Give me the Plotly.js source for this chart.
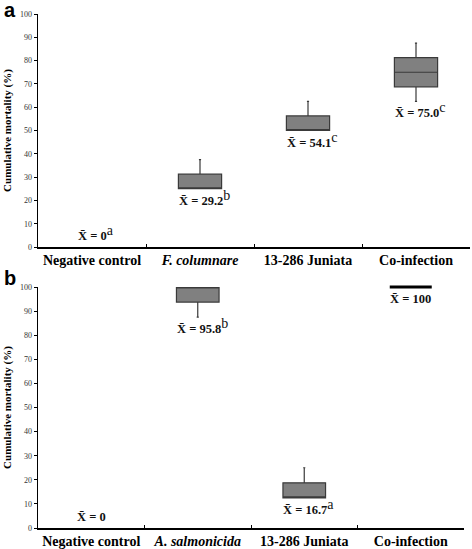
<!DOCTYPE html>
<html>
<head>
<meta charset="utf-8">
<script src="https://cdn.plot.ly/plotly-3.0.1.min.js"></script>
<style>html,body{margin:0;padding:0;background:#fff;}#chart{width:472px;height:549px;}</style>
</head>
<body>
<div id="chart"></div>
<script>
// ---- Data ----
const categoriesA = ['Negative control', '<i>F. columnare</i>', '13-286 Juniata', 'Co-infection'];
const categoriesB = ['Negative control', '<i>A. salmonicida</i>', '13-286 Juniata', 'Co-infection'];

// panel a box statistics (Negative control has no spread: all 0)
const boxCatsA = ['<i>F. columnare</i>', '13-286 Juniata', 'Co-infection'];
const lowerA = [25, 50, 62.5];
const q1A = [25, 50, 68.75];
const medianA = [25, 50, 75];
const q3A = [31.25, 56.25, 81.25];
const upperA = [37.5, 62.5, 87.5];

// panel b box statistics
const boxCatsB = ['<i>A. salmonicida</i>', '13-286 Juniata'];
const lowerB = [87.5, 12.5];
const q1B = [93.75, 12.5];
const medianB = [100, 12.5];
const q3B = [100, 18.75];
const upperB = [100, 25];
// Co-infection in panel b: all fish died (100)
const flatCatsB = ['Co-infection'];
const flatValB = [100];

const meanLabelsA = ['0', '29.2', '54.1', '75.0'];
const lettersA = ['a', 'b', 'c', 'c'];
const meanLabelsB = ['0', '95.8', '16.7', '100'];
const lettersB = ['', 'b', 'a', ''];

// ---- Styles ----
const serif = 'Liberation Serif, Times New Roman, serif';
const boxFill = '#808080';
const boxLine = '#3a3a3a';

const traces = [
  {type: 'box', x: boxCatsA, q1: q1A, median: medianA, q3: q3A, lowerfence: lowerA, upperfence: upperA,
   xaxis: 'x', yaxis: 'y', width: 0.4, whiskerwidth: 0.05, fillcolor: boxFill,
   line: {color: boxLine, width: 1.2}, boxpoints: false, hoverinfo: 'skip', showlegend: false},
  {type: 'box', x: boxCatsB, q1: q1B, median: medianB, q3: q3B, lowerfence: lowerB, upperfence: upperB,
   xaxis: 'x2', yaxis: 'y2', width: 0.4, whiskerwidth: 0.05, fillcolor: boxFill,
   line: {color: boxLine, width: 1.2}, boxpoints: false, hoverinfo: 'skip', showlegend: false},
  {type: 'scatter', mode: 'markers', x: flatCatsB, y: flatValB, xaxis: 'x2', yaxis: 'y2', cliponaxis: false,
   marker: {symbol: 'line-ew', size: 30, color: '#000', line: {color: '#000', width: 3}},
   hoverinfo: 'skip', showlegend: false}
];

function lowest(cats, boxCats, lower, flatCats, flatVals) {
  return cats.map(c => {
    const i = boxCats.indexOf(c);
    if (i >= 0) return lower[i];
    const j = flatCats.indexOf(c);
    return j >= 0 ? flatVals[j] : null;
  });
}
const lowA = lowest(categoriesA, boxCatsA, lowerA, [], []);
const lowB = lowest(categoriesB, boxCatsB, lowerB, flatCatsB, flatValB);

function meanAnnots(labels, letters, lows, xref, yref) {
  return labels.map((m, i) => {
    const txt = 'X\u0304 = ' + m +
      (letters[i] ? '<sup><span style="font-size:14px;font-weight:normal;fill:#111;color:#111">' + letters[i] + '</span></sup>' : '');
    const hasBox = lows[i] !== null;
    return {
      xref: xref, yref: yref, x: i + (letters[i] ? 0.04 : 0), y: hasBox ? lows[i] : 0,
      yanchor: hasBox ? 'top' : 'bottom', yshift: hasBox ? (letters[i] ? 3 : -3) : 2,
      text: txt, showarrow: false,
      font: {family: serif, size: 12.5, color: '#111', weight: 'bold'}
    };
  });
}

const yaxisCommon = {
  range: [0, 100], dtick: 10, tick0: 0, ticks: 'outside', ticklen: 3, tickwidth: 1, tickcolor: '#000',
  showline: true, linecolor: '#000', linewidth: 1.5, showgrid: false, zeroline: false,
  tickfont: {family: serif, size: 8, color: '#333333'}, automargin: false,
  title: {text: 'Cumulative mortality (%)', font: {family: serif, size: 11, color: '#000', weight: 'bold'}, standoff: 6}
};
const xaxisCommon = {
  type: 'category', range: [-0.5, 3.5], tickson: 'boundaries', ticks: 'inside', ticklen: 3, tickwidth: 1,
  tickangle: 0, tickcolor: '#000', showline: true, linecolor: '#000', linewidth: 1.5, showgrid: false, zeroline: false,
  tickfont: {family: serif, size: 14, color: '#000', weight: 'bold'}, automargin: false
};

const layout = {
  width: 472, height: 549,
  margin: {l: 0, r: 0, t: 0, b: 0},
  paper_bgcolor: '#fff', plot_bgcolor: '#fff',
  showlegend: false,
  xaxis: Object.assign({}, xaxisCommon, {domain: [38/472, 470/472], anchor: 'y', categoryorder: 'array', categoryarray: categoriesA}),
  yaxis: Object.assign({}, yaxisCommon, {domain: [1 - 247/549, 1 - 14/549], anchor: 'x'}),
  xaxis2: Object.assign({}, xaxisCommon, {domain: [38/472, 464/472], anchor: 'y2', categoryorder: 'array', categoryarray: categoriesB}),
  yaxis2: Object.assign({}, yaxisCommon, {domain: [1 - 528/549, 1 - 287/549], anchor: 'x2'}),
  annotations: [
    {xref: 'paper', yref: 'paper', x: 2/472, y: 1 + 3/549, xanchor: 'left', yanchor: 'top', text: '<b>a</b>', showarrow: false,
     font: {family: 'Liberation Sans, Arial, sans-serif', size: 20, color: '#000'}},
    {xref: 'paper', yref: 'paper', x: 2/472, y: 1 - 265/549, xanchor: 'left', yanchor: 'top', text: '<b>b</b>', showarrow: false,
     font: {family: 'Liberation Sans, Arial, sans-serif', size: 20, color: '#000'}}
  ].concat(meanAnnots(meanLabelsA, lettersA, lowA, 'x', 'y'), meanAnnots(meanLabelsB, lettersB, lowB, 'x2', 'y2'))
};

// register all categories on both axes
traces.push({type: 'scatter', mode: 'markers', x: categoriesA, y: [null, null, null, null], xaxis: 'x', yaxis: 'y', hoverinfo: 'skip', showlegend: false});
traces.push({type: 'scatter', mode: 'markers', x: categoriesB, y: [null, null, null, null], xaxis: 'x2', yaxis: 'y2', hoverinfo: 'skip', showlegend: false});

Plotly.newPlot('chart', traces, layout, {staticPlot: true, displayModeBar: false});
</script>
</body>
</html>
